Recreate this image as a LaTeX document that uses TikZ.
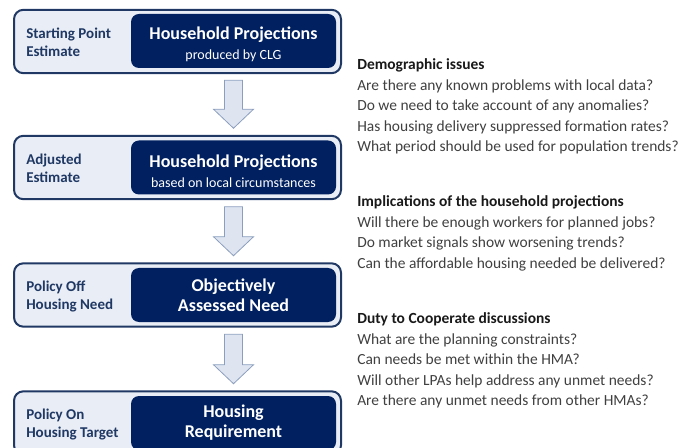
\documentclass[tikz,border=0pt]{standalone}
\usepackage{fontspec}
\setmainfont{Carlito}
\usetikzlibrary{calc}
\definecolor{navy}{RGB}{31,56,100}
\definecolor{inkblue}{RGB}{0,32,96}
\definecolor{paleblue}{RGB}{233,237,245}
\definecolor{arrfill}{RGB}{222,229,241}
\definecolor{arrline}{RGB}{140,158,190}
\definecolor{qgrey}{RGB}{64,64,64}
\begin{document}
\begin{tikzpicture}[x=0.75pt,y=-0.75pt,
  outerbox/.style={draw=navy, line width=1.5pt, fill=paleblue, rounded corners=7pt,
    minimum width=245.25pt, minimum height=47.5pt, inner sep=0pt},
  innerbox/.style={fill=inkblue, rounded corners=6pt, minimum width=153.75pt,
    minimum height=40.5pt, inner sep=0pt, text=white, align=center,
    font=\bfseries\fontsize{13.5}{15}\selectfont},
  stagelabel/.style={anchor=west, align=left, text=navy, inner sep=0pt,
    font=\bfseries\fontsize{11.25}{13.5}\selectfont},
  blockarrow/.style={draw=arrline, fill=arrfill, line width=0.6pt},
  heading/.style={anchor=base west, inner sep=0pt, text=black!90,
    font=\bfseries\fontsize{11.6}{13}\selectfont},
  question/.style={anchor=base west, inner sep=0pt, text=qgrey,
    font=\fontsize{11.6}{13}\selectfont}]
\newcommand{\subtxt}[1]{{\normalfont\fontsize{10.5}{15}\selectfont #1}}
\newcommand{\topstrut}{\rule{0pt}{14.5pt}}
\useasboundingbox (0,0) rectangle (680,448);

% stage boxes
\node[outerbox] (b1) at (177.5,41.5) {};
\node[innerbox] (i1) at (233.5,41) {\topstrut Household Projections\\\subtxt{produced by CLG}};
\node[stagelabel] (l1) at (26,42) {Starting Point\\Estimate};

\node[outerbox] (b2) at (177.5,167.5) {};
\node[innerbox] (i2) at (233.5,167.5) {\topstrut Household Projections\\\subtxt{based on local circumstances}};
\node[stagelabel] (l2) at (26,168) {Adjusted\\Estimate};

\node[outerbox] (b3) at (177.5,295) {};
\node[innerbox] (i3) at (233.5,295) {Objectively\\Assessed Need};
\node[stagelabel] (l3) at (26,296.5) {Policy Off\\Housing Need};

\node[outerbox] (b4) at (177.5,423) {};
\node[innerbox] (i4) at (233.5,423) {Housing\\Requirement};
\node[stagelabel] (l4) at (26,425) {Policy On\\Housing Target};

% block arrows
\foreach \a/\b in {i1/i2, i2/i3, i3/i4} {
  \coordinate (\a-top) at ($(\a.south)+(0,12)$);
  \coordinate (\a-tip) at ($(\b.north)+(0,-12)$);
  \draw[blockarrow] ($(\a-top)+(-9,0)$) -- ($(\a-tip)+(-9,-19)$) -- ($(\a-tip)+(-20,-19)$)
    -- (\a-tip) -- ($(\a-tip)+(20,-19)$) -- ($(\a-tip)+(9,-19)$) -- ($(\a-top)+(9,0)$) -- cycle;
}

% right-hand questions
\node[heading] (h1) at (357,69.5) {Demographic issues};
\node[question] (q11) at (357,90.5) {Are there any known problems with local data?};
\node[question] (q12) at (357,111) {Do we need to take account of any anomalies?};
\node[question] (q13) at (357,131.5) {Has housing delivery suppressed formation rates?};
\node[question] (q14) at (357,152) {What period should be used for population trends?};

\node[heading] (h2) at (357,207) {Implications of the household projections};
\node[question] (q21) at (357,227.5) {Will there be enough workers for planned jobs?};
\node[question] (q22) at (357,248) {Do market signals show worsening trends?};
\node[question] (q23) at (357,268.5) {Can the affordable housing needed be delivered?};

\node[heading] (h3) at (357,323.5) {Duty to Cooperate discussions};
\node[question] (q31) at (357,344) {What are the planning constraints?};
\node[question] (q32) at (357,364.5) {Can needs be met within the HMA?};
\node[question] (q33) at (357,385) {Will other LPAs help address any unmet needs?};
\node[question] (q34) at (357,405.5) {Are there any unmet needs from other HMAs?};
\end{tikzpicture}
\end{document}
